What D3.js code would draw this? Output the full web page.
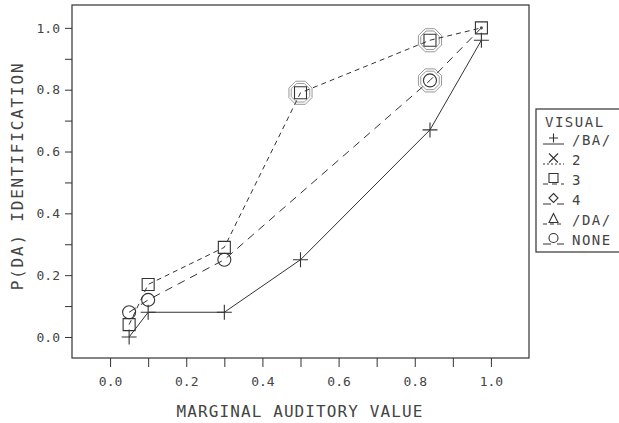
<!DOCTYPE html>
<meta charset="utf-8">
<style>
body { margin: 0; background: #fff; }
text { font-family: "DejaVu Sans Mono", monospace; fill: #444; }
.frame { fill: none; stroke: #333; stroke-width: 1.2; }
.tick line { stroke: #333; }
</style>
<body>
<script src="https://d3js.org/d3.v7.min.js"></script>
<script>

// data
var xBA   = [0.05, 0.1, 0.3, 0.5, 0.84, 0.975];
var yBA   = [0.0, 0.08, 0.08, 0.25, 0.67, 0.96];
var x3    = [0.05, 0.1, 0.3, 0.5, 0.84, 0.975];
var y3    = [0.04, 0.17, 0.29, 0.79, 0.96, 1.0];
var xNone = [0.05, 0.1, 0.3, 0.84, 0.975];
var yNone = [0.08, 0.12, 0.25, 0.83, 1.0];
// points circled with an octagon
var ringX = [0.5, 0.84, 0.84];
var ringY = [0.79, 0.96, 0.83];
var dotX = [0.975], dotY = [1.0];

var legendLabels = ["/BA/", "2", "3", "4", "/DA/", "NONE"];
var legendSymbols = ["plus", "cross", "square", "diamond", "triangle", "circle"];
var legendDash = ["", "2,2", "5,4", "8,6", "4,3", "8,6"];

var yTicks = d3.range(0, 1.01, 0.1);
var xTicks = d3.range(0, 1.01, 0.1);

var width = 619, height = 423;
var plot = {left: 72, top: 5, right: 529, bottom: 358};

var svg = d3.select("body").append("svg")
    .attr("width", width)
    .attr("height", height);

var x = d3.scaleLinear().domain([-0.1, 1.1]).range([plot.left, plot.right]);
var y = d3.scaleLinear().domain([-0.068, 1.074]).range([plot.bottom, plot.top]);

var fmt = d3.format(".1f");
function evenLabel(d) { return Math.round(d * 10) % 2 === 0 ? fmt(d) : ""; }

// axes
var gy = svg.append("g")
    .attr("transform", "translate(" + plot.left + ",0)")
    .call(d3.axisLeft(y).tickValues(yTicks).tickSize(7).tickPadding(5).tickFormat(evenLabel));
gy.select(".domain").remove();
gy.selectAll("text").style("font-size", "13px");

var gx = svg.append("g")
    .attr("transform", "translate(0," + plot.bottom + ")")
    .call(d3.axisBottom(x).tickValues(xTicks).tickSize(9).tickPadding(10).tickFormat(evenLabel));
gx.select(".domain").remove();
gx.selectAll("text").style("font-size", "13px");

svg.append("rect")
    .attr("class", "frame")
    .attr("x", plot.left).attr("y", plot.top)
    .attr("width", plot.right - plot.left)
    .attr("height", plot.bottom - plot.top);

// axis titles
svg.append("text")
    .attr("x", 300).attr("y", 417)
    .attr("text-anchor", "middle")
    .style("font-size", "16px")
    .style("letter-spacing", "1.1px")
    .text("MARGINAL AUDITORY VALUE");

svg.append("text")
    .attr("transform", "translate(23,176) rotate(-90)")
    .attr("text-anchor", "middle")
    .style("font-size", "16px")
    .style("letter-spacing", "1.8px")
    .text("P(DA) IDENTIFICATION");

// symbol drawing
function drawSymbol(g, type, cx, cy, s) {
  var h = s / 2;
  var p = d3.path();
  if (type === "plus") {
    p.moveTo(cx - h, cy); p.lineTo(cx + h, cy);
    p.moveTo(cx, cy - h); p.lineTo(cx, cy + h);
  } else if (type === "cross") {
    p.moveTo(cx - h, cy - h); p.lineTo(cx + h, cy + h);
    p.moveTo(cx - h, cy + h); p.lineTo(cx + h, cy - h);
  } else if (type === "square") {
    p.rect(cx - h, cy - h, s, s);
  } else if (type === "diamond") {
    p.moveTo(cx, cy - h); p.lineTo(cx + h, cy); p.lineTo(cx, cy + h); p.lineTo(cx - h, cy); p.closePath();
  } else if (type === "triangle") {
    p.moveTo(cx, cy - h); p.lineTo(cx + h, cy + h); p.lineTo(cx - h, cy + h); p.closePath();
  } else if (type === "circle") {
    p.moveTo(cx + h, cy); p.arc(cx, cy, h, 0, 2 * Math.PI);
  }
  g.append("path").attr("d", p.toString())
    .attr("fill", "none").attr("stroke", "#333").attr("stroke-width", 1.1);
}

function octagon(r) {
  return d3.range(8).map(function(i) {
    var a = Math.PI / 8 + i * Math.PI / 4;
    return [r * Math.cos(a), r * Math.sin(a)];
  });
}

var line = d3.line().x(function(d) { return x(d[0]); }).y(function(d) { return y(d[1]); });

var series = [
  {xs: xBA, ys: yBA, dash: "", sym: "plus", size: 15},
  {xs: x3, ys: y3, dash: "5,4", sym: "square", size: 12},
  {xs: xNone, ys: yNone, dash: "8,6", sym: "circle", size: 13}
];

var marks = svg.append("g");

// octagon rings (drawn first, lighter grey)
d3.zip(ringX, ringY).forEach(function(d) {
  [12.5, 10].forEach(function(r) {
    marks.append("polygon")
      .attr("points", octagon(r).map(function(p) { return (x(d[0]) + p[0]) + "," + (y(d[1]) + p[1]); }).join(" "))
      .attr("fill", "none")
      .attr("stroke", "#999")
      .attr("stroke-width", 1);
  });
});

series.forEach(function(s) {
  var pts = d3.zip(s.xs, s.ys);
  marks.append("path")
      .datum(pts)
      .attr("d", line)
      .attr("fill", "none")
      .attr("stroke", "#333")
      .attr("stroke-width", 1)
      .attr("stroke-dasharray", s.dash);
  pts.forEach(function(d, i) {
    if (s.sym === "circle" && i === pts.length - 1) return;
    drawSymbol(marks, s.sym, x(d[0]), y(d[1]), s.size);
  });
});

d3.zip(dotX, dotY).forEach(function(d) {
  marks.append("circle")
    .attr("cx", x(d[0])).attr("cy", y(d[1])).attr("r", 1.6)
    .attr("fill", "#555");
});

// legend
var lg = svg.append("g");
lg.append("rect")
    .attr("x", 536).attr("y", 109)
    .attr("width", 100).attr("height", 143)
    .attr("fill", "#fff").attr("stroke", "#333").attr("stroke-width", 1.2);
lg.append("text")
    .attr("x", 545).attr("y", 127)
    .style("font-size", "14px")
    .style("letter-spacing", "1.5px")
    .text("VISUAL");

legendLabels.forEach(function(lab, i) {
  var cy = 144 + i * 20;
  lg.append("line")
    .attr("x1", 543).attr("x2", 564)
    .attr("y1", cy).attr("y2", cy)
    .attr("stroke", "#333").attr("stroke-width", 1)
    .attr("stroke-dasharray", legendDash[i]);
  drawSymbol(lg, legendSymbols[i], 553.5, cy - 6, 9);
  lg.append("text")
    .attr("x", 572).attr("y", cy + 1)
    .style("font-size", "14px")
    .style("letter-spacing", "1.5px")
    .text(lab);
});

</script>
</body>
